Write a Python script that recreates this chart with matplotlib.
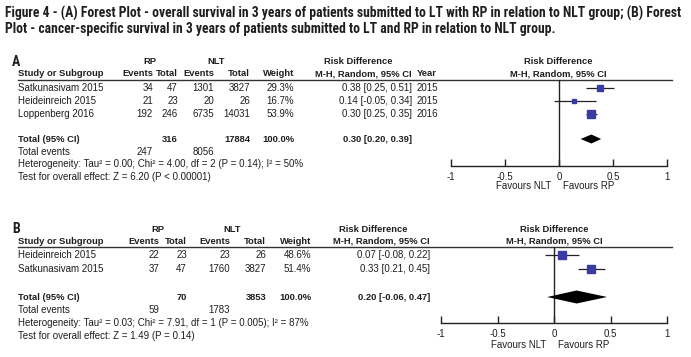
import matplotlib
matplotlib.use("Agg")
import matplotlib.pyplot as plt
from matplotlib import font_manager as fm

# ---- data ------------------------------------------------------------------
title_lines = [
    "Figure 4 - (A) Forest Plot - overall survival in 3 years of patients submitted to LT with RP in relation to NLT group; (B) Forest",
    "Plot - cancer-specific survival in 3 years of patients submitted to LT and RP in relation to NLT group.",
]

a_studies = ["Satkunasivam 2015", "Heideinreich 2015", "Loppenberg 2016"]
a_rp_events = [34, 21, 192]
a_rp_total = [47, 23, 246]
a_nlt_events = [1301, 20, 6735]
a_nlt_total = [3827, 26, 14031]
a_weight = [29.3, 16.7, 53.9]
a_rd = [0.38, 0.14, 0.30]
a_lo = [0.25, -0.05, 0.25]
a_hi = [0.51, 0.34, 0.35]
a_year = [2015, 2015, 2016]
a_pooled = (0.30, 0.20, 0.39)
a_sum_total = (316, 17884)
a_sum_events = (247, 8056)
a_het = "Heterogeneity: Tau\u00b2 = 0.00; Chi\u00b2 = 4.00, df = 2 (P = 0.14); I\u00b2 = 50%"
a_test = "Test for overall effect: Z = 6.20 (P < 0.00001)"

b_studies = ["Heideinreich 2015", "Satkunasivam 2015"]
b_rp_events = [22, 37]
b_rp_total = [23, 47]
b_nlt_events = [23, 1760]
b_nlt_total = [26, 3827]
b_weight = [48.6, 51.4]
b_rd = [0.07, 0.33]
b_lo = [-0.08, 0.21]
b_hi = [0.22, 0.45]
b_pooled = (0.20, -0.06, 0.47)
b_sum_total = (70, 3853)
b_sum_events = (59, 1783)
b_het = "Heterogeneity: Tau\u00b2 = 0.03; Chi\u00b2 = 7.91, df = 1 (P = 0.005); I\u00b2 = 87%"
b_test = "Test for overall effect: Z = 1.49 (P = 0.14)"

ticks = [-1, -0.5, 0, 0.5, 1]
tick_labels = ["-1", "-0.5", "0", "0.5", "1"]

W, H = 691, 357
BLUE = "#3b3ba8"
INK = "#1e1e1e"
FS = 7.0
FSB = 6.75
SANS = ["Liberation Sans", "DejaVu Sans"]

# the caption is set in a narrow bold face; take one if the box has it
names = {f.name for f in fm.fontManager.ttflist}
narrow = dict(family=["Liberation Sans", "DejaVu Sans"], stretch="normal")
for pref in ["Liberation Sans Narrow", "Arial Narrow", "Roboto Condensed",
             "Open Sans Condensed", "Noto Sans Condensed", "DejaVu Sans Condensed"]:
    if pref in names:
        narrow = dict(family=[pref, "DejaVu Sans"], stretch="normal")
        break
else:
    for f in fm.fontManager.ttflist:
        if f.name in ("Noto Sans", "Open Sans", "Roboto") and str(f.stretch) in ("condensed", "semi-condensed", "75", "87.5"):
            narrow = dict(family=[f.name, "DejaVu Sans"], stretch="condensed")
            break

fig = plt.figure(figsize=(W / 100, H / 100), dpi=100)
bg = fig.add_axes([0, 0, 1, 1])
bg.set_xlim(0, W)
bg.set_ylim(H, 0)
bg.axis("off")


def txt(x, y, s, ha="left", bold=False, size=None, family=SANS, stretch="normal"):
    if size is None:
        size = FSB if bold else FS
    return bg.text(x, y, s, ha=ha, va="center", fontsize=size, color=INK,
                   fontweight="bold" if bold else "normal", family=family,
                   fontstretch=stretch)


title_txt = [txt(5, 13 + 16 * i, line, bold=True, size=9.6, **narrow)
             for i, line in enumerate(title_lines)]

# fit the caption to the width it takes in the reference (x 5..686)
fig.canvas.draw()
rend = fig.canvas.get_renderer()
wpx = title_txt[0].get_window_extent(rend).width
new_size = min(10.5, 9.6 * 681 / wpx)
for t in title_txt:
    t.set_fontsize(new_size)


def panel(lab, lay, studies, rp_ev, rp_tot, nlt_ev, nlt_tot, weight,
          rd, lo, hi, pooled, sum_total, sum_events, het, test, year=None):
    cols = lay["cols"]          # right edges: RP ev, RP tot, NLT ev, NLT tot, weight
    rd_r = lay["rd_r"]
    h1, h2, line_y = lay["h1"], lay["h2"], lay["line_y"]
    rows = lay["rows"]

    txt(12, h1, lab, bold=True, size=10, **narrow)
    txt((cols[0] - 31 + cols[1]) / 2, h1, "RP", ha="center", bold=True)
    txt((cols[2] - 31 + cols[3]) / 2, h1, "NLT", ha="center", bold=True)
    txt(lay["rd_c"], h1, "Risk Difference", ha="center", bold=True)
    txt(lay["x0"], h1, "Risk Difference", ha="center", bold=True)

    txt(18, h2, "Study or Subgroup", bold=True)
    for x, s in zip(cols, ["Events", "Total", "Events", "Total", "Weight"]):
        txt(x, h2, s, ha="right", bold=True)
    hdr = "M-H, Random, 95% CI"
    txt(rd_r, h2, hdr, ha="right", bold=True)
    if year is not None:
        txt(rd_r + 5, h2, "Year", bold=True)
    txt(lay["x0"], h2, hdr, ha="center", bold=True)
    bg.plot([18, 672], [line_y, line_y], color="#333333", lw=1.0)

    for k, name in enumerate(studies):
        y = rows[k]
        txt(18, y, name)
        vals = [rp_ev[k], rp_tot[k], nlt_ev[k], nlt_tot[k]]
        for x, v in zip(cols[:4], vals):
            txt(x, y, str(v), ha="right")
        txt(cols[4], y, f"{weight[k]:.1f}%", ha="right")
        txt(rd_r, y, f"{rd[k]:.2f} [{lo[k]:.2f}, {hi[k]:.2f}]", ha="right")
        if year is not None:
            txt(rd_r + 5, y, str(year[k]))

    yt = lay["total_y"]
    txt(18, yt, "Total (95% CI)", bold=True)
    txt(cols[1], yt, str(sum_total[0]), ha="right", bold=True)
    txt(cols[3], yt, str(sum_total[1]), ha="right", bold=True)
    txt(cols[4], yt, "100.0%", ha="right", bold=True)
    txt(rd_r, yt, f"{pooled[0]:.2f} [{pooled[1]:.2f}, {pooled[2]:.2f}]",
        ha="right", bold=True)
    txt(18, lay["ev_y"], "Total events")
    txt(cols[0], lay["ev_y"], str(sum_events[0]), ha="right")
    txt(cols[2], lay["ev_y"], str(sum_events[1]), ha="right")
    txt(18, lay["het_y"], het)
    txt(18, lay["test_y"], test)

    # forest area: x in risk-difference units, y in figure pixels
    xl, xr, ax_y = lay["xl"], lay["xr"], lay["axis_y"]
    ax = fig.add_axes([xl / W, 1 - ax_y / H, (xr - xl) / W, (ax_y - line_y) / H])
    ax.set_xlim(-1, 1)
    ax.set_ylim(ax_y, line_y)
    ax.patch.set_visible(False)
    for s in ("top", "left", "right"):
        ax.spines[s].set_visible(False)
    ax.spines["bottom"].set_linewidth(1.0)
    ax.spines["bottom"].set_color("#222222")
    ax.set_yticks([])
    ax.set_xticks(ticks)
    ax.set_xticklabels(tick_labels, fontsize=FS, family=SANS, color=INK)
    ax.tick_params(axis="x", direction="in", length=5, width=1.0, pad=4,
                   color="#222222")
    ax.axvline(0, color="#222222", lw=1.0)

    for k in range(len(studies)):
        y = rows[k]
        ax.hlines(y, lo[k], hi[k], color="#222222", lw=0.9, zorder=2)
        ax.plot(rd[k], y, "s", ms=1.2 * weight[k] ** 0.5 * 0.72,
                color=BLUE, mec=BLUE, zorder=3)
    est, plo, phi = pooled
    dh = lay["dia_h"]
    ax.fill([plo, est, phi, est], [yt, yt - dh, yt, yt + dh],
            color="black", lw=0, zorder=3)

    fx = xl + (xr - xl) / 2
    txt(fx - 8, lay["fav_y"], "Favours NLT", ha="right")
    txt(fx + 4, lay["fav_y"], "Favours RP")


lay_a = dict(cols=[153, 178, 214, 250, 294], rd_r=412, rd_c=358,
             h1=62, h2=74, line_y=80, rows=[88, 101, 114], total_y=139,
             ev_y=152, het_y=164, test_y=177, xl=451, xr=667, axis_y=166,
             fav_y=186, dia_h=4.5, x0=558)
lay_b = dict(cols=[159, 187, 230, 266, 311], rd_r=430, rd_c=373,
             h1=229, h2=241, line_y=247, rows=[255, 269], total_y=297,
             ev_y=310, het_y=323, test_y=336, xl=441, xr=667, axis_y=323,
             fav_y=345, dia_h=6.5, x0=554)

panel("A", lay_a, a_studies, a_rp_events, a_rp_total, a_nlt_events, a_nlt_total,
      a_weight, a_rd, a_lo, a_hi, a_pooled, a_sum_total, a_sum_events,
      a_het, a_test, year=a_year)
panel("B", lay_b, b_studies, b_rp_events, b_rp_total, b_nlt_events, b_nlt_total,
      b_weight, b_rd, b_lo, b_hi, b_pooled, b_sum_total, b_sum_events,
      b_het, b_test)

fig.savefig("out.png", dpi=100)
